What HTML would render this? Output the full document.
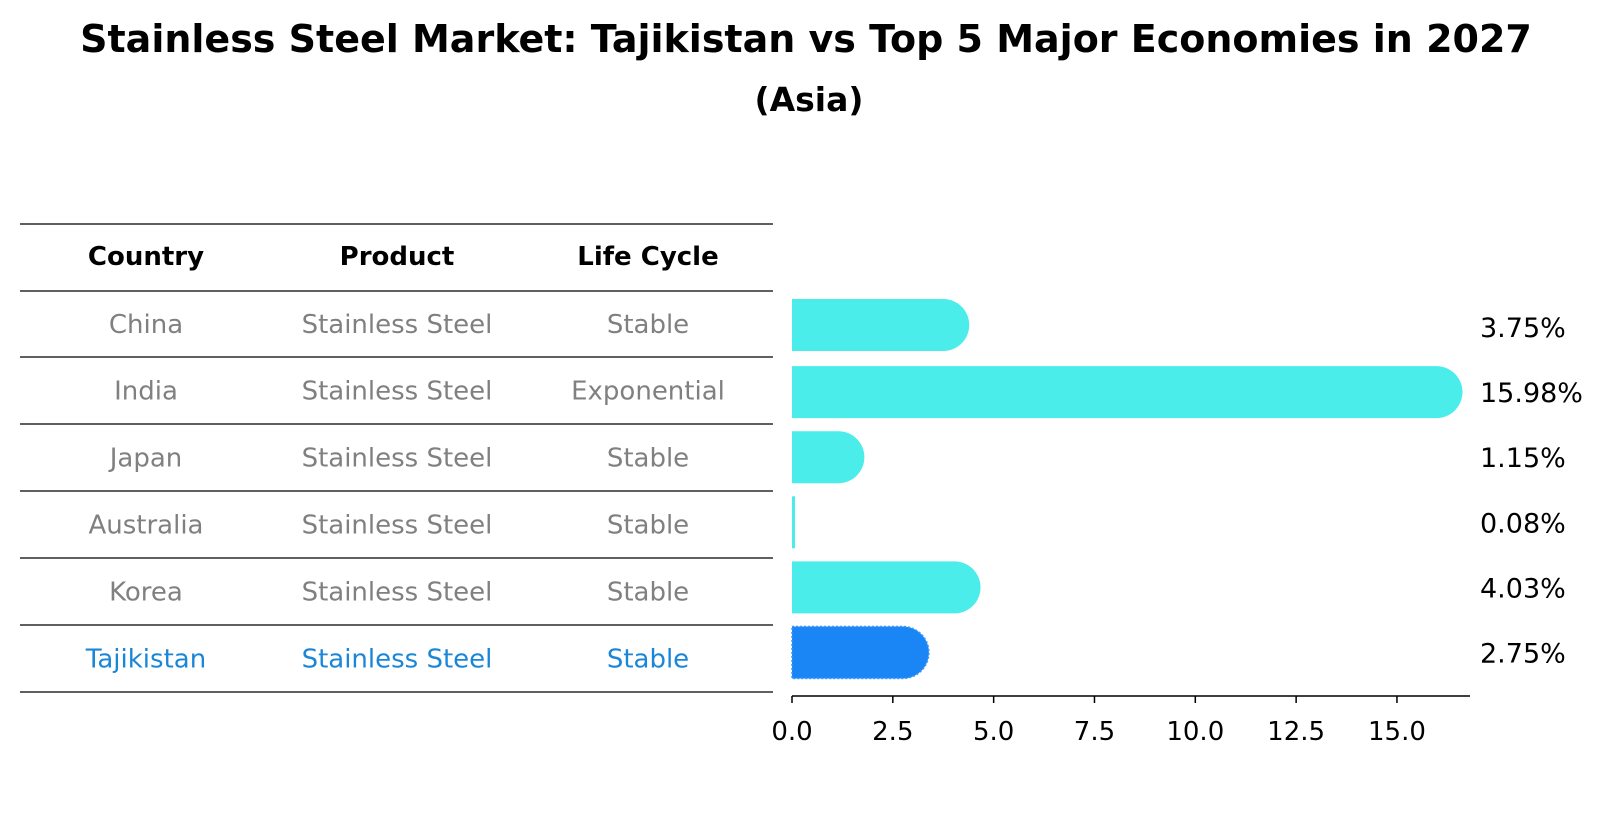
<!DOCTYPE html>
<html><head><meta charset="utf-8"><style>
body{margin:0;background:#fff;}
svg{display:block;font-family:"DejaVu Sans","Liberation Sans",sans-serif;}
</style></head><body>
<svg id="chart" width="1604" height="823" viewBox="0 0 1604 823">
<text x="806" y="52" text-anchor="middle" font-size="38" font-weight="bold">Stainless Steel Market: Tajikistan vs Top 5 Major Economies in 2027</text>
<text x="809" y="111" text-anchor="middle" font-size="33" font-weight="bold">(Asia)</text>
<g id="table"></g>
<g id="bars"></g>
</svg>
<script>
const countries = ["China","India","Japan","Australia","Korea","Tajikistan"];
const products = ["Stainless Steel","Stainless Steel","Stainless Steel","Stainless Steel","Stainless Steel","Stainless Steel"];
const lifeCycles = ["Stable","Exponential","Stable","Stable","Stable","Stable"];
const values = [3.75,15.98,1.15,0.08,4.03,2.75];
const valueLabels = ["3.75%","15.98%","1.15%","0.08%","4.03%","2.75%"];
const xTicks = [0,2.5,5,7.5,10,12.5,15];
const xTickLabels = ["0.0","2.5","5.0","7.5","10.0","12.5","15.0"];
const highlight = "Tajikistan";

const NS="http://www.w3.org/2000/svg";
function mk(tag,attrs,parent){const e=document.createElementNS(NS,tag);for(const k in attrs)e.setAttribute(k,attrs[k]);parent.appendChild(e);return e;}
const x0=792, pxPerUnit=40.33;
function xs(v){return x0+v*pxPerUnit;}
const rowTop=327, rowStep=65.1, barH=52;
function ys(i){return rowTop+i*rowStep;}

const tg=document.getElementById('table');
const lines=[224,291,357,424,491,558,625,692];
lines.forEach((y,i)=>{const l=mk('line',{x1:20,x2:773,y1:y,y2:y,stroke:'#000','stroke-width':1.2},tg);

});
const colX=[146,397,648];
["Country","Product","Life Cycle"].forEach((h,j)=>{const t=mk('text',{x:colX[j],y:265,'text-anchor':'middle','font-size':26,'font-weight':'bold'},tg);t.textContent=h;

});
countries.forEach((c,i)=>{
  const cy=(lines[i+1]+lines[i+2])/2+9;
  const col=c===highlight?'#1a86d8':'#808080';
  [c,products[i],lifeCycles[i]].forEach((v,j)=>{
    const t=mk('text',{x:colX[j],y:cy,'text-anchor':'middle','font-size':26,fill:col},tg);t.textContent=v;
    
    
  });
});

const bg=document.getElementById('bars');
values.forEach((v,i)=>{
  const cy=ys(i)+(i===0?-2:0);
  const isH=countries[i]===highlight;
  const w=Math.max(xs(v)-x0,0);
  const left=x0, right=xs(v);
  const d = w>4 ? `M${left},${cy-barH/2} L${right},${cy-barH/2} A${barH/2},${barH/2} 0 0 1 ${right},${cy+barH/2} L${left},${cy+barH/2} Z`
                : `M${left},${cy-barH/2} L${left+3},${cy-barH/2} L${left+3},${cy+barH/2} L${left},${cy+barH/2} Z`;
  const p=mk('path',{d:d,fill:isH?'#1a86f5':'#4aedea',stroke:isH?'#3a9af8':'none','stroke-width':isH?1.5:0,'stroke-dasharray':isH?'2,2':'none'},bg);
  
  
  const t=mk('text',{x:1480,y:ys(i)+10,'font-size':27,fill:'#000'},bg);t.textContent=valueLabels[i];
  
  
});
const ax=mk('line',{x1:x0,x2:1470,y1:696,y2:696,stroke:'#000','stroke-width':1.5},bg);


xTicks.forEach((v,i)=>{
  const tk=mk('line',{x1:xs(v),x2:xs(v),y1:696,y2:703,stroke:'#000','stroke-width':1.5},bg);
  
  
  const t=mk('text',{x:xs(v),y:740,'text-anchor':'middle','font-size':26},bg);t.textContent=xTickLabels[i];
  
  
});
</script>
</body></html>
